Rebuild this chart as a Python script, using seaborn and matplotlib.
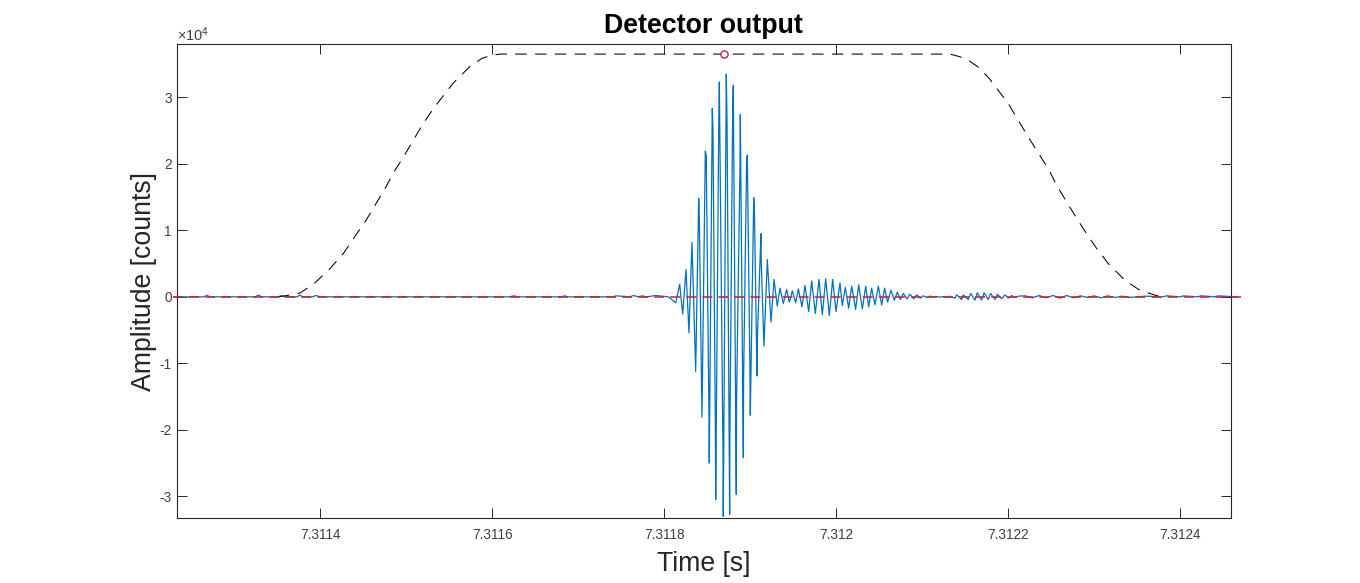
import matplotlib
matplotlib.use("Agg")
import matplotlib.pyplot as plt
import seaborn as sns
import numpy as np
import pandas as pd

# all times are microseconds after t_base, amplitudes are in units of 1e4 counts
t_base = 7.3118

peak_t = [17.9, 25.2, 32.2, 40, 47.7, 55.8, 64, 72.1, 80.2, 88.4, 96.5, 104, 112.4, 119.8, 127.6, 134.5, 142.3,
          148.9, 155.9, 163.6, 171.4, 179.9, 187.7, 195.8, 204.3, 210.5, 217.9, 226, 234.2, 241.1, 248.9, 256.3,
          263.6, 271, 278, 285.7, 293.5, 301.2, 309, 316.7, 324.5, 332.2, 340, 347.7, 356.3, 364, 371.8, 379.5,
          387.3, 396.2, 403.9, 411.7]
peak_a = [0.19, 0.41, 0.82, 1.48, 2.19, 2.83, 3.23, 3.35, 3.18, 2.74, 2.13, 1.49, 0.95, 0.56, 0.26, 0.13, 0.11,
          0.09, 0.12, 0.17, 0.24, 0.26, 0.27, 0.26, 0.21, 0.14, 0.16, 0.18, 0.16, 0.13, 0.16, 0.13,
          0.10, 0.07, 0.05, 0.04, 0.03, 0.015, 0.01, 0.005, 0.005, 0.01, 0.03, 0.03, 0.05, 0.06, 0.06, 0.05,
          0.04, 0.03, 0.02, 0.01]
trough_t = [13.3, 21.4, 28.7, 36.5, 43.8, 52.3, 59.8, 68.6, 76, 83.7, 91.9, 100, 107.8, 115.9, 124.1, 131.4, 138.4,
            145.4, 152.8, 160.1, 167.9, 175.6, 183.8, 191.9, 199.7, 207, 214.4, 222.5, 230.3, 237.7, 245, 252.8,
            259.7, 267.5, 274.5, 282.2, 290, 297.7, 305.5, 313.2, 321, 328.7, 338, 345.8, 353.5, 361.3, 369, 376.8,
            384.6, 392.3, 400, 407.8]
trough_a = [-0.09, -0.26, -0.54, -1.12, -1.81, -2.50, -3.05, -3.30, -3.27, -2.97, -2.42, -1.78, -1.19, -0.74, -0.38, -0.14, -0.10,
            -0.08, -0.09, -0.15, -0.22, -0.25, -0.27, -0.28, -0.22, -0.13, -0.17, -0.19, -0.18, -0.15, -0.12, -0.12,
            -0.08, -0.05, -0.04, -0.03, -0.03, -0.02, -0.01, -0.005, -0.005, -0.01, -0.02, -0.04, -0.04, -0.05, -0.05, -0.04,
            -0.04, -0.03, -0.02, -0.01]

# second sample close to the big extrema
shoulder_t = [40.7, 48.8, 56.6, 63.3, 73, 79.5, 88, 95.7, 104.8, 112.7,
              36, 43.5, 52, 59.5, 68.2, 76.3, 84, 92.2, 99.6, 108.2]
shoulder_a = [1.20, 2.13, 2.52, 2.58, 2.58, 2.76, 1.95, 2.03, 1.30, 0.55,
              -0.88, -1.48, -1.88, -2.18, -2.28, -2.06, -1.60, -1.26, -1.13, -0.65]

# low level noise before and after the echo
noise_t = [-571, -536, -532, -528, -524, -476, -472, -468, -464, -449, -445, -441, -437, -427, -424, -420, -416,
           -409, -405, -400, -396, -300, -180, -175, -170, -120, -116, -112, -60, -56, -40, -36, -30, -26, -20, -10, 5,
           420, 428, 436, 444, 452, 460, 468, 476, 484, 492, 500, 508, 516, 524, 532, 540, 560, 580, 584, 600, 604,
           620, 624, 640, 644, 666]
noise_a = [0, 0, 0.02, 0, 0, 0, 0.025, 0, 0, 0, 0.02, 0, 0, 0, 0.025, 0, 0,
           0, 0.02, 0, 0, 0, 0, 0.015, 0, 0, 0.015, 0, 0, 0.015, 0, 0.02, 0, 0.015, 0, 0.02, 0,
           0.015, -0.015, 0.02, -0.015, 0.02, -0.02, 0.02, -0.015, 0.015, -0.01, 0.015, -0.015, 0.015, -0.01, 0.01, -0.01, 0.01, 0, 0.015, 0, 0.015,
           0, 0.015, 0, 0.015, 0]

env_t = [-449.2, -441, -423.6, -406.2, -388.8, -373.3, -359.7, -348, -336.4, -324.8, -315.1, -303.5, -291.9, -280.9,
         -268.6, -245.7, -225.9, -212, -200.3, -191, 332.2, 343.8, 355.5, 367.1, 378.7, 390.4, 400, 411.6, 423.3,
         434.9, 446.5, 456.3, 467.9, 478.7, 490.4, 503.5, 516.3, 535.7, 553.1, 572.6, 579.9]
env_a = [0, 0.015, 0.057, 0.21, 0.424, 0.65, 0.91, 1.125, 1.376, 1.627, 1.862, 2.10, 2.353, 2.594,
         2.83, 3.21, 3.466, 3.586, 3.632, 3.65, 3.65, 3.61, 3.54, 3.436, 3.27, 3.07, 2.905, 2.654, 2.403,
         2.162, 1.928, 1.677, 1.426, 1.2, 0.96, 0.714, 0.5, 0.248, 0.098, 0.018, 0]

detect_t = [69.4]
detect_a = [3.65]
threshold_t = [-571, 671]
threshold_a = [0, 0]

x_ticks = [7.3114, 7.3116, 7.3118, 7.312, 7.3122, 7.3124]
x_labels = ["7.3114", "7.3116", "7.3118", "7.312", "7.3122", "7.3124"]
y_ticks = [-3, -2, -1, 0, 1, 2, 3]
x_limits = (7.311233, 7.312459)
y_limits = (-3.33, 3.797)

sns.set_theme(style="ticks")
plt.rcParams["font.family"] = ["Liberation Sans", "DejaVu Sans"]
plt.rcParams["mathtext.fontset"] = "custom"
plt.rcParams["mathtext.rm"] = "Liberation Sans"
plt.rcParams["mathtext.default"] = "regular"


def frame(t, a):
    return pd.DataFrame({"time": t_base + np.array(t) * 1e-6, "amp": np.array(a) * 1e4})


wave_t = np.concatenate([peak_t, trough_t, shoulder_t, noise_t])
wave_a = np.concatenate([peak_a, trough_a, shoulder_a, noise_a])
order = np.argsort(wave_t)
wave = frame(wave_t[order], wave_a[order])

fig, ax = plt.subplots(figsize=(13.6, 5.83), dpi=100)
fig.subplots_adjust(left=176.7 / 1360, right=1231 / 1360, top=1 - 44.3 / 583, bottom=1 - 518.3 / 583)

sns.lineplot(data=wave, x="time", y="amp", ax=ax, estimator=None, color="#0072BD", linewidth=0.9, clip_on=False, zorder=2)
sns.lineplot(data=frame(env_t, env_a), x="time", y="amp", ax=ax, estimator=None, color="black",
             linewidth=0.75, linestyle=(0, (11, 8)), zorder=3)
sns.lineplot(data=frame(threshold_t, threshold_a), x="time", y="amp", ax=ax, estimator=None, color="#D8182A",
             linewidth=1.1, linestyle=(0, (6.5, 4)), clip_on=False, zorder=4)
det = frame(detect_t, detect_a)
ax.plot(det["time"], det["amp"], "o", mfc="white", mec="#B5122E", ms=5.2, mew=0.9, zorder=5)

ax.set_xlim(x_limits)
ax.set_ylim(y_limits[0] * 1e4, y_limits[1] * 1e4)
ax.set_xticks(x_ticks)
ax.set_xticklabels(x_labels)
ax.set_yticks([v * 1e4 for v in y_ticks])
ax.set_yticklabels([str(v) for v in y_ticks])
ax.tick_params(axis="both", direction="in", length=7.2, width=0.7, color="#262626", top=True, right=True,
               labelsize=9.8, labelcolor="#404040")
ax.tick_params(axis="x", pad=6.8)
ax.tick_params(axis="y", pad=3.6)
for side in ax.spines.values():
    side.set_visible(True)
    side.set_linewidth(0.8)
    side.set_color("#262626")

ax.set_title("Detector output", fontsize=19.3, fontweight="bold", color="black", pad=8)
ax.set_xlabel("Time [s]", fontsize=19.2, color="#262626", labelpad=7)
ax.set_ylabel("Amplitude [counts]", fontsize=19.2, color="#262626", labelpad=1.5)
ax.text(0, 1.0, r"$\times 10^{4}$", transform=ax.transAxes, fontsize=10.5, color="#404040", va="bottom", ha="left")

fig.savefig("out.png", dpi=100)
